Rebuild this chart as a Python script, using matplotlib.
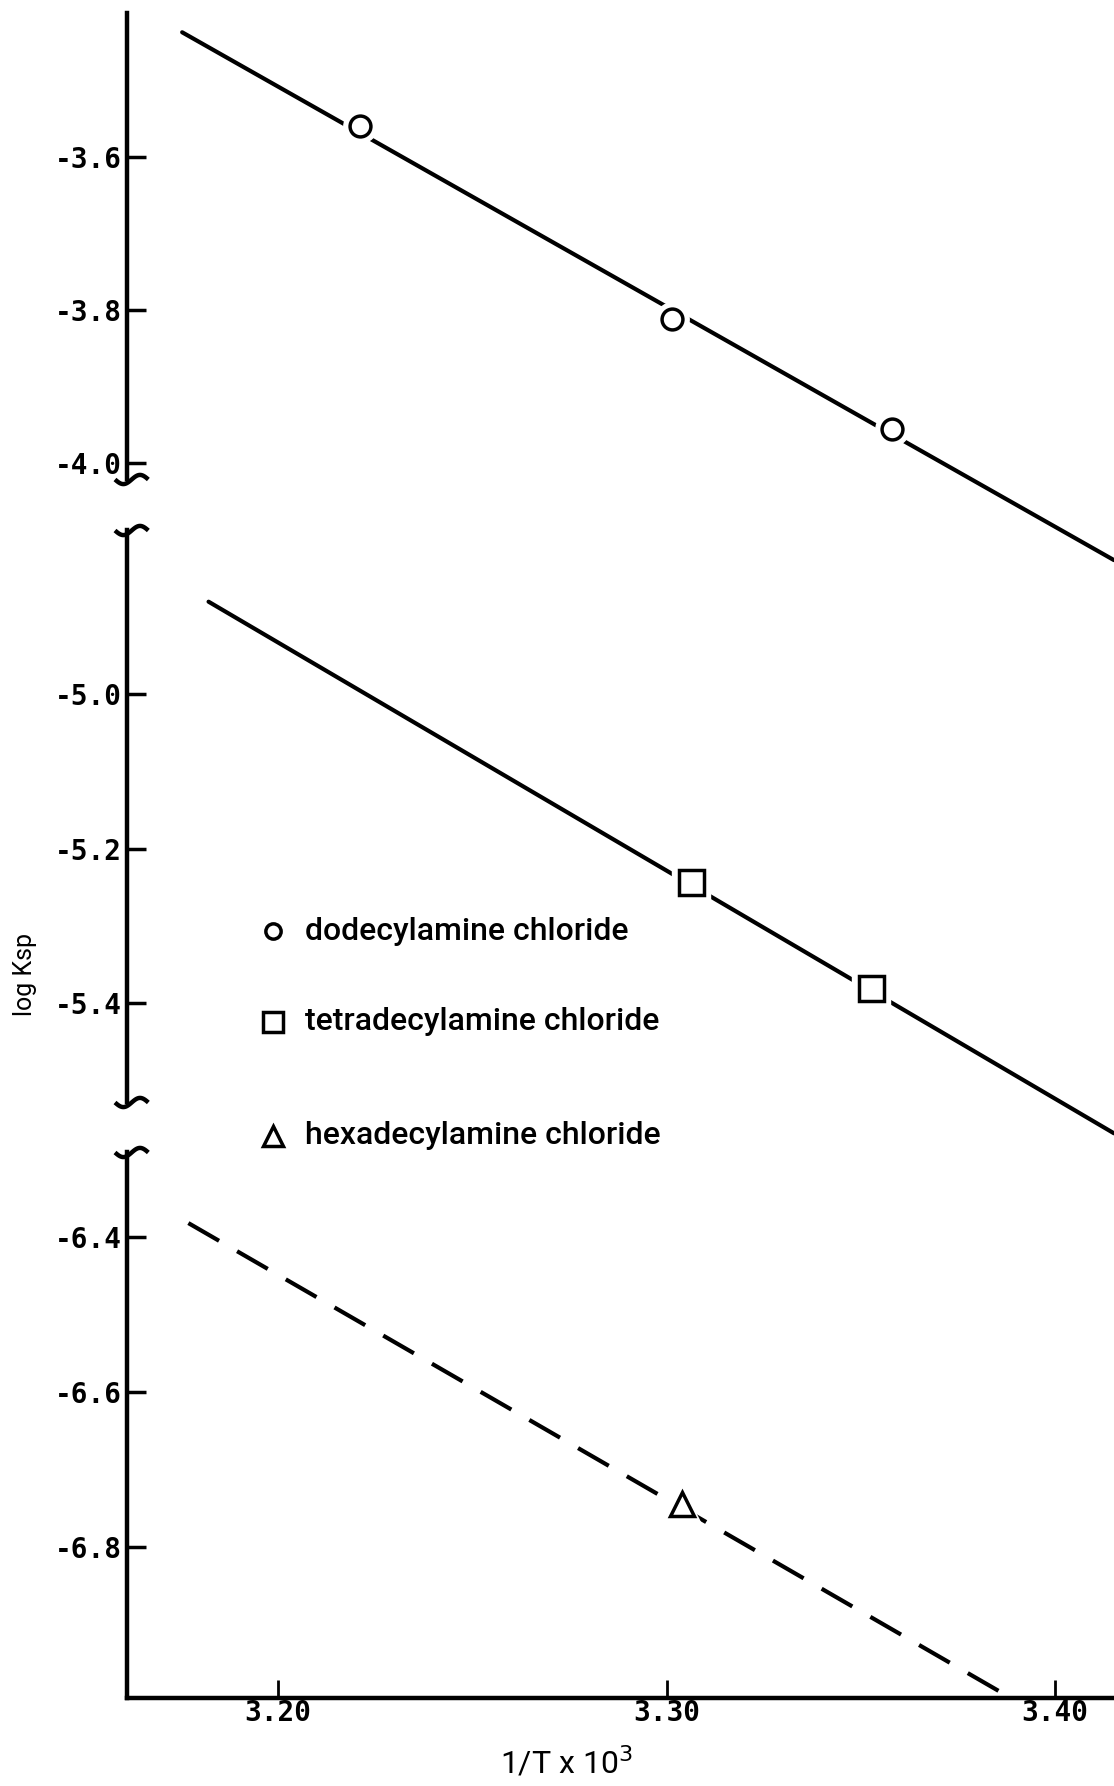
import numpy as np
import matplotlib
matplotlib.use('Agg')
import matplotlib.pyplot as plt
from matplotlib.path import Path

# measured points (1/T x 10^3, log Ksp)
x_dodecyl = [3.2211, 3.3015, 3.3581]
y_dodecyl = [-3.560, -3.812, -3.956]
x_tetra = [3.3062, 3.3526]
y_tetra = [-5.244, -5.380]
x_hexa = [3.3041]
y_hexa = [-6.744]

# drawn straight lines (end points)
fit_x_dodecyl = [3.1753, 3.4152]
fit_y_dodecyl = [-3.437, -4.127]
fit_x_tetra = [3.1821, 3.4152]
fit_y_tetra = [-4.8805, -5.5687]
fit_x_hexa = [3.1769, 3.387]
fit_y_hexa = [-6.382, -6.99]

labels = ['dodecylamine chloride', 'tetradecylamine chloride',
          'hexadecylamine chloride']

x_ticks = [3.20, 3.30, 3.40]
ticks_top = [-3.6, -3.8, -4.0]
ticks_mid = [-5.0, -5.2, -5.4]
ticks_bot = [-6.4, -6.6, -6.8]

plt.rcParams['axes.unicode_minus'] = False
TICKFONT = dict(family='DejaVu Sans Mono', weight='bold', size=20)
TEXTFONT = 'Roboto'

W, H = 1114, 1786
fig = plt.figure(figsize=(W / 100, H / 100), dpi=100)
rect = [127 / W, 88 / H, 1 - 127 / W, (1698 - 13) / H]
xlim = (3.1611, 3.4152)

# three overlaid axes, one per segment of the broken y axis
panels = [
    ((-5.6144, -3.4118), (-4.021, -3.4118), ticks_top),
    ((-6.2997, -4.1184), (-5.528, -4.788), ticks_mid),
    ((-6.9948, -4.8206), (-6.9948, -6.290), ticks_bot),
]

# little wave used as the break mark, sitting mostly right of the spine
t = np.linspace(-0.6, 1.0, 40)
wave = Path(np.column_stack([t, 0.22 * np.sin((t + 0.6) / 1.6 * 2 * np.pi - np.pi)]))

axes = []
for i, (ylim, bounds, yt) in enumerate(panels):
    ax = fig.add_axes(rect)
    ax.patch.set_visible(False)
    ax.set_xlim(*xlim)
    ax.set_ylim(*ylim)
    for s in ['top', 'right']:
        ax.spines[s].set_visible(False)
    ax.spines['left'].set_bounds(*bounds)
    ax.spines['left'].set_linewidth(3.2)
    ax.set_yticks(yt)
    ax.set_yticklabels(['%.1f' % v for v in yt], fontdict=TICKFONT)
    ax.tick_params(axis='y', direction='in', length=14, width=2.5, pad=4)
    if i < 2:
        ax.spines['bottom'].set_visible(False)
        ax.set_xticks([])
    else:
        ax.spines['bottom'].set_linewidth(3.2)
        ax.set_xticks(x_ticks)
        ax.set_xticklabels(['%.2f' % v for v in x_ticks], fontdict=TICKFONT)
        ax.tick_params(axis='x', direction='in', length=13, width=2, pad=1)
    # break marks
    ends = [b for b in bounds if abs(b - ylim[0]) > 1e-6 and abs(b - ylim[1]) > 1e-6]
    for yb in ends:
        ax.plot([xlim[0]], [yb], marker=wave, ms=30, mew=3.2, mfc='none',
                mec='black', clip_on=False, zorder=5)
    axes.append(ax)

ax1, ax2, ax3 = axes


def draw(ax, fx, fy, px, py, marker, ms, ls='-'):
    line, = ax.plot(fx, fy, color='black', lw=3, ls=ls, zorder=2,
                    solid_capstyle='round')
    if ls == '--':
        line.set_dashes((8.5, 5))
    ax.plot(px, py, ls='none', marker=marker, ms=ms + 9, mfc='white',
            mec='white', zorder=3)
    ax.plot(px, py, ls='none', marker=marker, ms=ms, mfc='white',
            mec='black', mew=2.5, zorder=4)


draw(ax1, fit_x_dodecyl, fit_y_dodecyl, x_dodecyl, y_dodecyl, 'o', 15)
draw(ax2, fit_x_tetra, fit_y_tetra, x_tetra, y_tetra, 's', 18)
draw(ax3, fit_x_hexa, fit_y_hexa, x_hexa, y_hexa, '^', 17, ls='--')

# key
key_y = [1 - 931 / H, 1 - 1022 / H, 1 - 1136 / H]
key_m = [('o', 11), ('s', 15), ('^', 14)]
for (m, ms), ky, lab in zip(key_m, key_y, labels):
    fig.lines.append(plt.Line2D([273 / W], [ky], ls='none', marker=m, ms=ms,
                                mfc='white', mec='black', mew=2.5,
                                transform=fig.transFigure))
    fig.text(305 / W, ky, lab, family=TEXTFONT, weight='medium', size=23,
             va='center', ha='left')

fig.text(25 / W, 1 - 974 / H, 'log Ksp', family=TEXTFONT, size=18,
         rotation=90, va='center', ha='center')
fig.text(566 / W, 1 - 1762 / H, r'1/T x 10$^3$', family=TEXTFONT, size=23,
         va='center', ha='center')

fig.savefig('out.png', dpi=100, facecolor='white')
